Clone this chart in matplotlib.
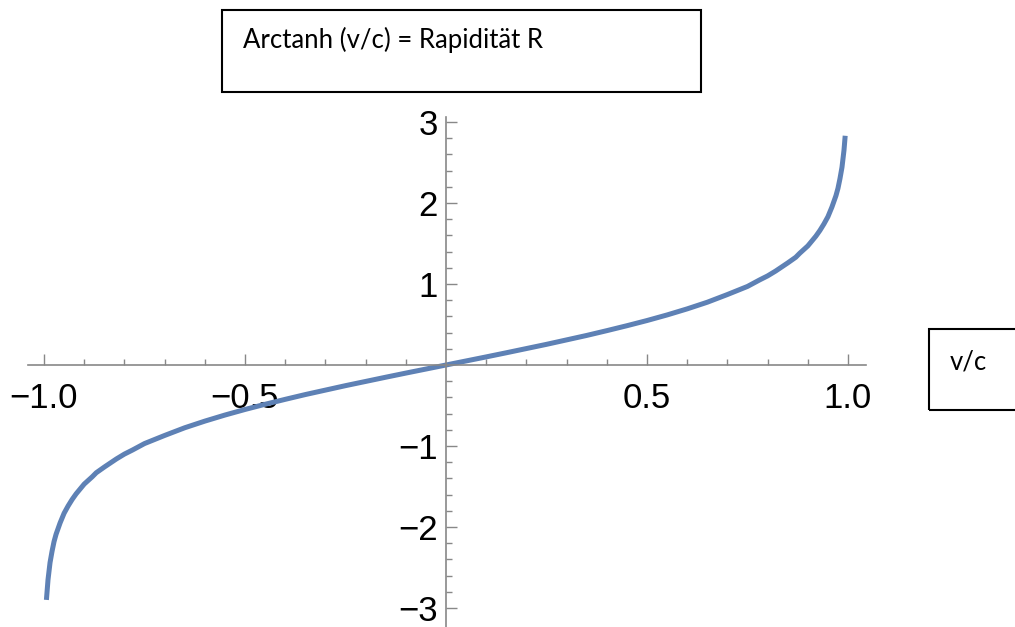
import matplotlib.pyplot as plt
from matplotlib.patches import Rectangle

# Werte (v/c, Rapidität)
v_c = [-0.994, -0.99, -0.985, -0.98, -0.975, -0.97, -0.96, -0.95, -0.94, -0.93, -0.92,
       -0.91, -0.9, -0.88, -0.87, -0.85, -0.82, -0.8, -0.78, -0.75, -0.72, -0.7,
       -0.65, -0.6, -0.55, -0.5, -0.45, -0.4, -0.35, -0.3, -0.25, -0.2, -0.15, -0.1,
       -0.05, 0.0, 0.05, 0.1, 0.15, 0.2, 0.25, 0.3, 0.35, 0.4, 0.45, 0.5, 0.55,
       0.6, 0.65, 0.7, 0.72, 0.75, 0.78, 0.8, 0.82, 0.85, 0.87, 0.88, 0.9, 0.91,
       0.92, 0.93, 0.94, 0.95, 0.96, 0.97, 0.975, 0.98, 0.985, 0.99, 0.993]
rapiditaet = [-2.90, -2.65, -2.44, -2.30, -2.18, -2.09, -1.95, -1.83, -1.74, -1.66, -1.59,
              -1.53, -1.47, -1.38, -1.33, -1.26, -1.16, -1.10, -1.05, -0.97, -0.91, -0.87,
              -0.775, -0.693, -0.618, -0.549, -0.485, -0.424, -0.365, -0.31, -0.255, -0.203,
              -0.151, -0.100, -0.050, 0.0, 0.050, 0.100, 0.151, 0.203, 0.255, 0.31, 0.365,
              0.424, 0.485, 0.549, 0.618, 0.693, 0.775, 0.87, 0.91, 0.97, 1.05, 1.10, 1.16,
              1.26, 1.33, 1.38, 1.47, 1.53, 1.59, 1.66, 1.74, 1.83, 1.95, 2.09, 2.18, 2.30,
              2.44, 2.65, 2.83]

x_ticks = [-1.0, -0.5, 0.5, 1.0]
x_ticklabels = ["\u22121.0", "\u22120.5", "0.5", "1.0"]
y_ticks = [-3, -2, -1, 1, 2, 3]
y_ticklabels = ["\u22123", "\u22122", "\u22121", "1", "2", "3"]

W, H = 1015, 627
fig = plt.figure(figsize=(W / 100, H / 100), dpi=100)

# Achsen so legen, dass x=0 bei ~446 px und y=0 bei ~365 px liegt
x0_px, x_unit = 446, 402
y0_px, y_unit = 365, 81
xmin, xmax = -1.04, 1.045
ymin, ymax = -(H - y0_px) / y_unit, (y0_px - 117) / y_unit
left = (x0_px + xmin * x_unit) / W
width = (xmax - xmin) * x_unit / W
ax = fig.add_axes([left, 0, width, (H - 117) / H])
ax.set_xlim(xmin, xmax)
ax.set_ylim(ymin, ymax)

ax.plot(v_c, rapiditaet, color="#5E81B5", lw=3.6, solid_capstyle="butt",
        solid_joinstyle="round", clip_on=False)

for s in ["top", "right"]:
    ax.spines[s].set_visible(False)
for s in ["left", "bottom"]:
    ax.spines[s].set_position(("data", 0))
    ax.spines[s].set_color("#888888")
    ax.spines[s].set_linewidth(1.2)

ax.set_xticks(x_ticks)
ax.set_xticklabels(x_ticklabels)
ax.set_xticks([i / 10 for i in range(-10, 11) if i % 5 != 0], minor=True)
ax.set_yticks(y_ticks)
ax.set_yticklabels(y_ticklabels)
ax.set_yticks([i / 5 for i in range(-15, 16) if i % 5 != 0], minor=True)

ax.tick_params(which="both", direction="in", color="#888888", width=1.0,
               labelsize=25, labelcolor="black")
ax.tick_params(which="major", length=8)
ax.tick_params(which="minor", length=4)
ax.tick_params(axis="x", pad=12)
ax.tick_params(axis="y", pad=6)
for lab in ax.get_xticklabels() + ax.get_yticklabels():
    lab.set_family("Liberation Sans")
ax.patch.set_alpha(0)

# Textfelder
def px_box(x1, y1, x2, y2):
    fig.patches.append(Rectangle((x1 / W, 1 - y2 / H), (x2 - x1) / W, (y2 - y1) / H,
                                 transform=fig.transFigure, fill=False,
                                 edgecolor="black", lw=1.5))

px_box(222, 10, 701, 92)
fig.text(243 / W, 1 - 40 / H, "Arctanh (v/c) = Rapidität R", fontsize=18.5,
         family="Lato", va="center", ha="left")
px_box(929, 329, 1025, 410)
fig.text(950 / W, 1 - 362 / H, "v/c", fontsize=18.5, family="Lato",
         va="center", ha="left")

fig.savefig("out.png", dpi=100)
